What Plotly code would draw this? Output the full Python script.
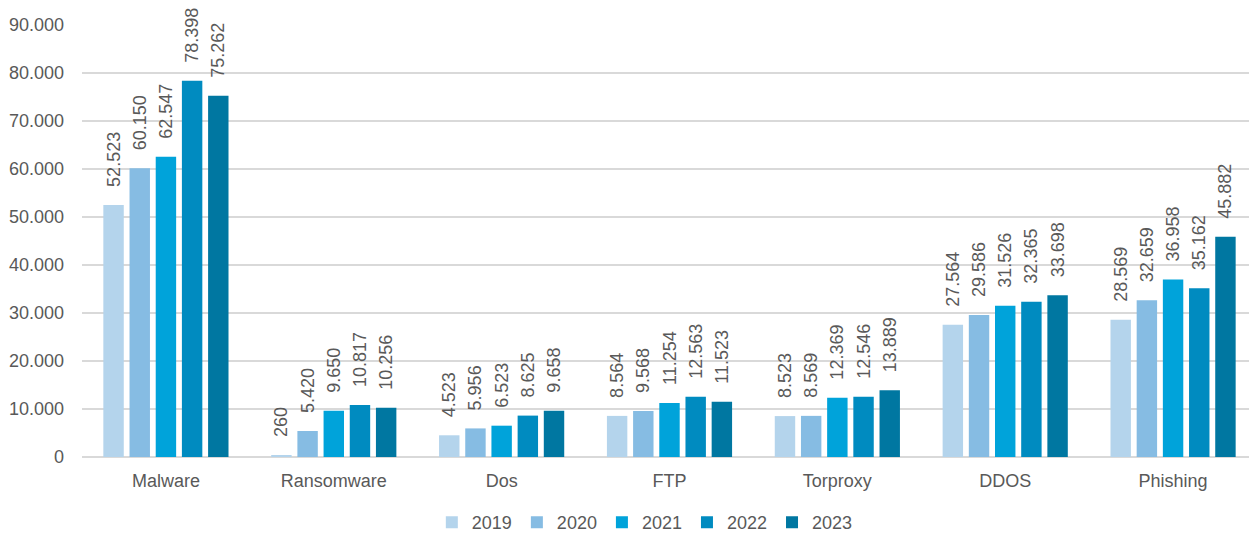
import plotly.graph_objects as go

categories = ["Malware", "Ransomware", "Dos", "FTP", "Torproxy", "DDOS", "Phishing"]
years = ["2019", "2020", "2021", "2022", "2023"]
v2019 = [52523, 260, 4523, 8564, 8523, 27564, 28569]
v2020 = [60150, 5420, 5956, 9568, 8569, 29586, 32659]
v2021 = [62547, 9650, 6523, 11254, 12369, 31526, 36958]
v2022 = [78398, 10817, 8625, 12563, 12546, 32365, 35162]
v2023 = [75262, 10256, 9658, 11523, 13889, 33698, 45882]
series = [v2019, v2020, v2021, v2022, v2023]
colors = ["#B4D4EC", "#86BCE3", "#00A3DA", "#008BC0", "#0077A1"]
tick_vals = [0, 10000, 20000, 30000, 40000, 50000, 60000, 70000, 80000, 90000]

FONT = "Liberation Sans, Arial, sans-serif"
PAD = "\u00a0\u00a0\u00a0"

fig = go.Figure()
for name, vals, col in zip(years, series, colors):
    fig.add_trace(go.Bar(
        x=categories, y=vals, name=name,
        marker=dict(color=col, line=dict(width=0)),
        texttemplate=PAD + "%{y:,d}", textposition="outside", textangle=-90,
        textfont=dict(family=FONT, size=18, color="#595959"),
        cliponaxis=False,
    ))

fig.update_layout(
    width=1257, height=535,
    barmode="group", bargap=0.22, bargroupgap=0.22,
    separators=",.",
    plot_bgcolor="white", paper_bgcolor="white",
    margin=dict(l=74, r=8, t=17, b=86, autoexpand=False),
    font=dict(family=FONT, size=18, color="#595959"),
    yaxis=dict(range=[0, 90000], tickvals=tick_vals, tickformat=",d",
               showgrid=True, gridcolor="#D9D9D9", gridwidth=1.5,
               zeroline=True, zerolinecolor="#D9D9D9", zerolinewidth=1.5,
               showline=False, ticks="", ticklen=0, automargin=False,
               ticklabelstandoff=17,
               tickfont=dict(family=FONT, size=18, color="#595959")),
    xaxis=dict(showline=False, ticks="", automargin=False, ticklabelstandoff=11,
               tickfont=dict(family=FONT, size=18, color="#595959")),
    legend=dict(orientation="h", x=0.479, xanchor="center", y=-0.152, yanchor="middle",
                font=dict(family=FONT, size=18, color="#595959"), itemwidth=30,
                traceorder="normal"),
    uniformtext=dict(minsize=18, mode="show"),
)

fig.write_html("out.html")
